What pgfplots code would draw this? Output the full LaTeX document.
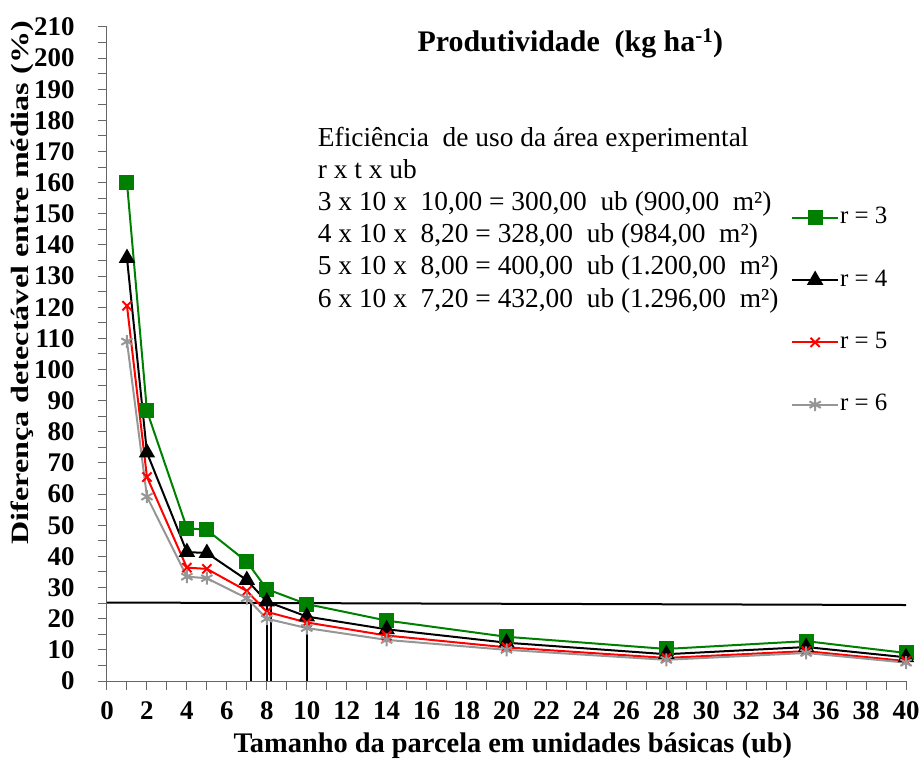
\documentclass[border=0pt]{standalone}
\usepackage{pgfplots}
\pgfplotsset{compat=1.18}
\usepackage{graphicx}
\usepackage{fontspec}
\setmainfont{Liberation Serif}
\definecolor{rgreen}{RGB}{0,128,0}
\definecolor{rred}{RGB}{255,0,0}
\definecolor{rgray}{RGB}{150,150,150}

\pgfplotstableread{
x    r3     r4     r5     r6
1    160.0  135.8  120.5  109.0
2    86.7   73.3   65.5   59.2
4    49.1   41.4   36.4   33.5
5    48.5   41.1   36.0   33.0
7    38.3   32.4   28.9   26.6
8    29.5   25.5   22.2   20.0
10   24.7   20.7   18.8   17.0
14   19.4   16.6   14.6   13.2
20   14.2   12.3   10.8   10.0
28   10.3   8.6    7.4    6.8
35   12.8   10.9   9.6    9.0
40   9.0    7.6    6.4    5.9
}\prodtab

\begin{document}
\begin{tikzpicture}
\begin{axis}[
  at={(0,0)}, anchor=south west,
  scale only axis, width=799bp, height=654bp,
  xmin=0, xmax=40, ymin=0, ymax=210,
  axis x line=bottom, axis y line=left,
  axis line style={-, black!60, line width=1bp},
  xtick={0,2,...,40}, minor xtick={1,3,...,39},
  ytick={0,10,...,210}, minor ytick={5,15,...,205},
  tick align=outside, major tick length=9bp, minor tick length=9bp,
  tick style={black!60, line width=1bp},
  /pgf/number format/assume math mode=true,
  ticklabel style={font=\fontsize{27}{29}\selectfont\bfseries},
  yticklabel style={xshift=-20bp},
  xticklabel style={yshift=-8bp},
  xlabel={Tamanho da parcela em unidades básicas (ub)},
  xlabel style={font=\fontsize{28.5}{30}\selectfont\bfseries,
    at={(axis description cs:0.508,-0.0994)}, anchor=center},
  ylabel={\scalebox{1.29}[1]{Diferença detectável entre médias (\%)}},
  ylabel style={font=\fontsize{25}{27}\selectfont\bfseries,
    at={(axis description cs:-0.106,0.609)}, anchor=center},
  clip=false,
  legend style={at={(axis description cs:0.856,0.727)}, anchor=north west,
    draw=none, fill=none, inner sep=0pt, row sep=38.3bp,
    font=\fontsize{25}{27}\selectfont,
    nodes={inner sep=1bp, text height=17bp, text depth=5bp}},
  legend cell align=left,
  legend image code/.code={
    \draw[mark repeat=2, mark phase=2, #1]
      plot coordinates {(0bp,0bp) (23bp,0bp) (46bp,0bp)};},
]
\addplot[black, line width=2bp, forget plot] coordinates {(0,25.2) (40,24.4)};
\addplot[black, line width=2bp, forget plot] coordinates {(7.2,0) (7.2,25.1)};
\addplot[black, line width=2bp, forget plot] coordinates {(8.0,0) (8.0,25.1)};
\addplot[black, line width=2bp, forget plot] coordinates {(8.2,0) (8.2,25.1)};
\addplot[black, line width=2bp, forget plot] coordinates {(10.0,0) (10.0,25.0)};

\addplot[rgreen, line width=2bp, mark=square*, mark size=6.5bp,
  mark options={fill=rgreen}] table[x=x, y=r3] {\prodtab};
\addlegendentry{r = 3}
\addplot[black, line width=2bp, mark=triangle*, mark size=7.5bp,
  mark options={fill=black}] table[x=x, y=r4] {\prodtab};
\addlegendentry{r = 4}
\addplot[rred, line width=2bp, mark=x, mark size=6.5bp] table[x=x, y=r5] {\prodtab};
\addlegendentry{r = 5}
\addplot[rgray, line width=2bp, mark=asterisk, mark size=6.5bp] table[x=x, y=r6] {\prodtab};
\addlegendentry{r = 6}

\node[font=\fontsize{30}{32}\selectfont\bfseries, anchor=center]
  at (axis cs:23.2,204.6) {Produtividade\ \ (kg ha\textsuperscript{-1})};
\node[font=\fontsize{27.5}{32.3}\selectfont, anchor=north west, align=left, inner sep=0pt]
  at (axis cs:10.55,178) {Eficiência\ \ de uso da área experimental\\
  r x t x ub\\
  3 x 10 x\ \ 10,00 = 300,00\ \ ub (900,00\ \ m²)\\
  4 x 10 x\ \ 8,20 = 328,00\ \ ub (984,00\ \ m²)\\
  5 x 10 x\ \ 8,00 = 400,00\ \ ub (1.200,00\ \ m²)\\
  6 x 10 x\ \ 7,20 = 432,00\ \ ub (1.296,00\ \ m²)};
\end{axis}
\path[use as bounding box] (-107bp,-84bp) rectangle (816bp,681bp);
\end{tikzpicture}
\end{document}
